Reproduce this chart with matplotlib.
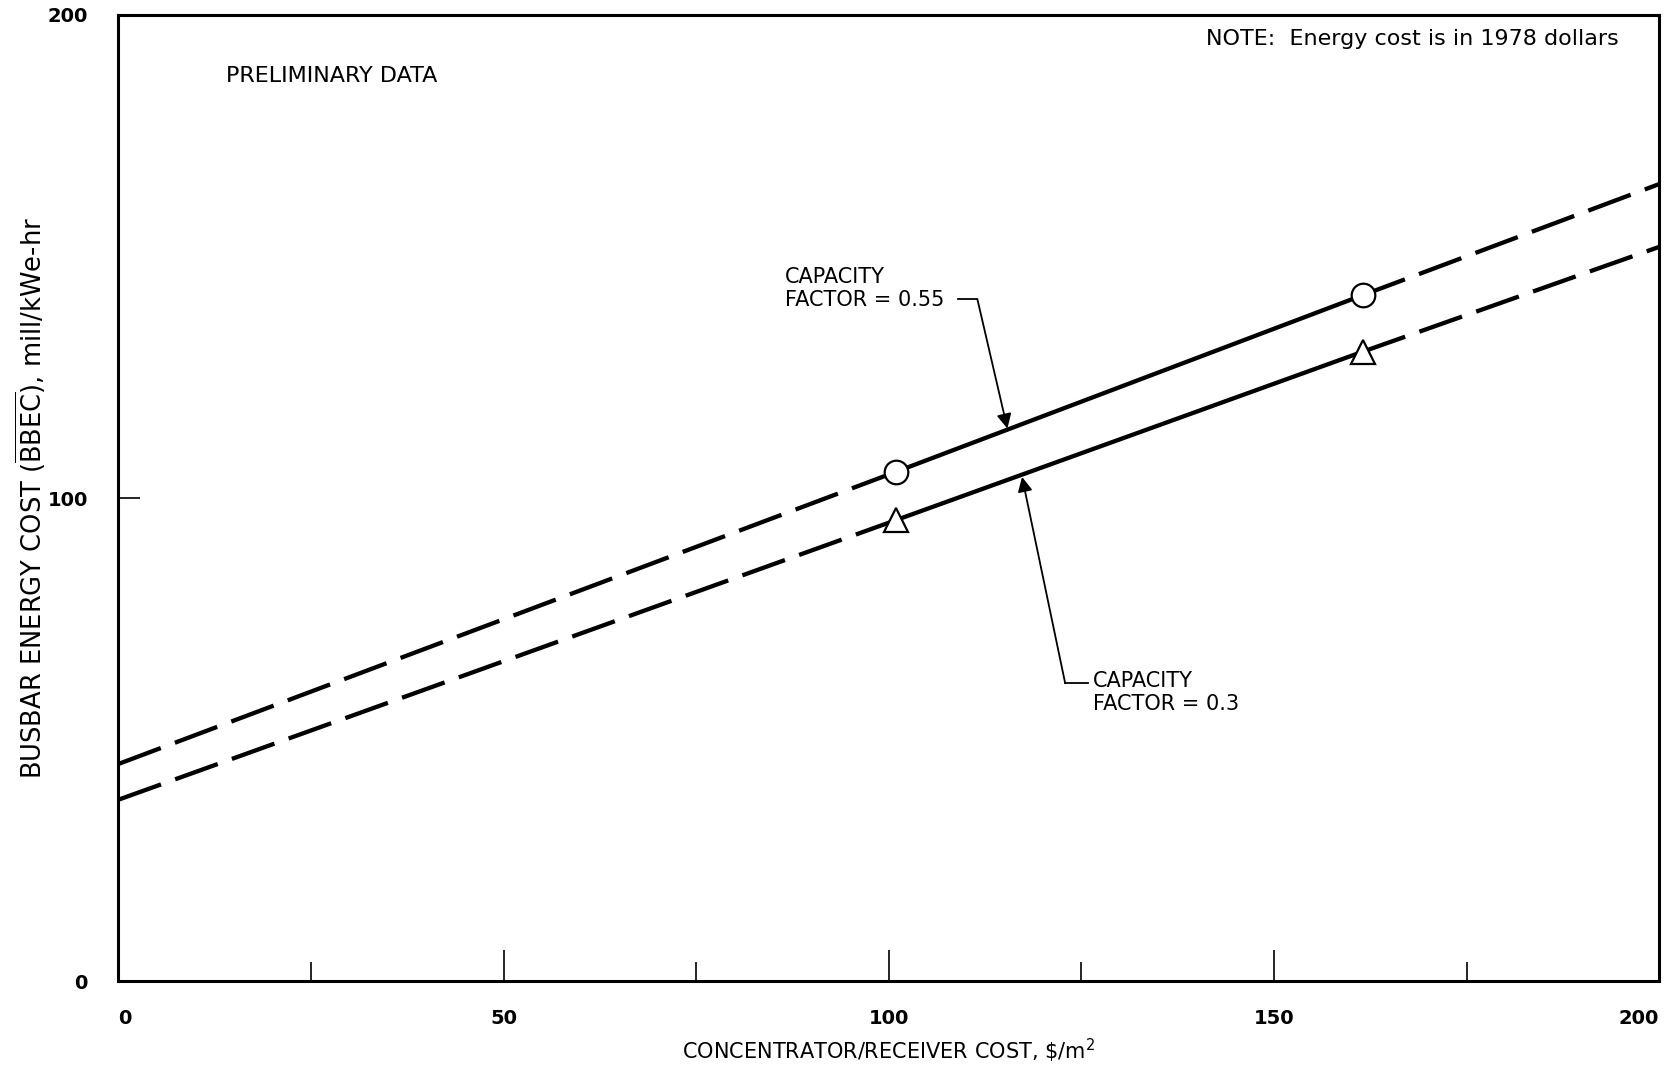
import matplotlib.pyplot as plt
from matplotlib.ticker import FixedLocator

# ===============================
# DATA
# ===============================
cost_x = [0, 101, 161.5, 200]           # concentrator/receiver cost, $/m2
bbec_cf055 = [45.0, 105.5, 142.0, 165.0]  # capacity factor = 0.55
bbec_cf03 = [37.6, 95.5, 130.3, 152.0]    # capacity factor = 0.3

x_major = [0, 50, 100, 150, 200]
x_minor = [25, 75, 125, 175]
y_ticks = [0, 100, 200]

# annotation anchors (data coords)
cf055_text = (86.5, 141.2)
cf055_corner = (111.5, 141.2)
cf055_tip = (115.4, 114.4)
cf03_text = (126.5, 61.7)
cf03_corner = (122.9, 61.7)
cf03_tip = (117.3, 104.4)

# ===============================
# PLOT
# ===============================
fig = plt.figure(figsize=(16.73, 10.70), dpi=100)
ax = fig.add_axes([0.0708, 0.0828, 0.9209, 0.9032])

lw = 3.1
dash = (10.5, 3.5)

for yy, mk in [(bbec_cf055, "o"), (bbec_cf03, "^")]:
    ax.plot(cost_x[0:2], yy[0:2], color="black", lw=lw, dashes=dash,
            dash_capstyle="butt")
    ax.plot(cost_x[1:3], yy[1:3], color="black", lw=lw)
    ax.plot(cost_x[2:4], yy[2:4], color="black", lw=lw, dashes=dash,
            dash_capstyle="butt")
    ax.plot(cost_x[1:3], yy[1:3], linestyle="none", marker=mk, ms=17,
            mfc="white", mec="black", mew=1.6, zorder=5)

ax.set_xlim(0, 200)
ax.set_ylim(0, 200)

ax.xaxis.set_major_locator(FixedLocator(x_major))
ax.xaxis.set_minor_locator(FixedLocator(x_minor))
ax.yaxis.set_major_locator(FixedLocator(y_ticks))
ax.tick_params(axis="x", which="major", direction="in", length=22, width=1.2,
               pad=20, labelsize=14)
ax.tick_params(axis="x", which="minor", direction="in", length=14, width=1.2)
ax.tick_params(axis="y", which="major", direction="in", length=16, width=1.2,
               pad=22, labelsize=14)
for lab in ax.get_xticklabels() + ax.get_yticklabels():
    lab.set_fontweight("bold")
xlabs = ax.get_xticklabels()
xlabs[0].set_horizontalalignment("left")
xlabs[-1].set_horizontalalignment("right")
for sp in ax.spines.values():
    sp.set_linewidth(2.2)

ax.set_xlabel("CONCENTRATOR/RECEIVER COST, \\$/m$^2$", fontsize=15, labelpad=6)
ax.set_ylabel("BUSBAR ENERGY COST ($\\overline{\\mathrm{BBEC}}$), mill/kWe-hr",
              fontsize=18.5, labelpad=0)

ax.text(14, 187.4, "PRELIMINARY DATA", fontsize=16, va="center", ha="left")
ax.text(194.7, 195.1, "NOTE:  Energy cost is in 1978 dollars", fontsize=16,
        va="center", ha="right")

# CF = 0.55 label with leader
ax.text(cf055_text[0], cf055_text[1] - 2.2, "CAPACITY\nFACTOR = 0.55", fontsize=15,
        ha="left", va="bottom", linespacing=1.2)
ax.plot([cf055_text[0] + 22.5, cf055_corner[0]], [cf055_corner[1], cf055_corner[1]],
        color="black", lw=1.3)
ax.annotate("", xy=cf055_tip, xytext=cf055_corner,
            arrowprops=dict(arrowstyle="-|>", color="black", lw=1.3,
                            mutation_scale=22, shrinkA=0, shrinkB=0))

# CF = 0.3 label with leader
ax.text(cf03_text[0], cf03_text[1] + 2.6, "CAPACITY\nFACTOR = 0.3", fontsize=15,
        ha="left", va="top", linespacing=1.2)
ax.plot([cf03_corner[0], cf03_corner[0] + 2.9], [cf03_corner[1], cf03_corner[1]],
        color="black", lw=1.3)
ax.annotate("", xy=cf03_tip, xytext=cf03_corner,
            arrowprops=dict(arrowstyle="-|>", color="black", lw=1.3,
                            mutation_scale=22, shrinkA=0, shrinkB=0))

fig.savefig("out.png", dpi=100)
